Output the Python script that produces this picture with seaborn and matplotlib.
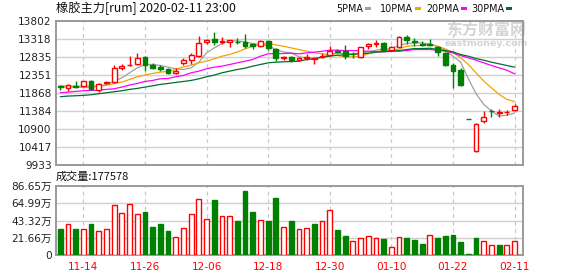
import numpy as np
import pandas as pd
import matplotlib
matplotlib.use("Agg")
import matplotlib.pyplot as plt
from matplotlib.patches import Rectangle
import seaborn as sns

# ---------------- data ----------------
dates = ["11-11", "11-12", "11-13", "11-14", "11-15", "11-18", "11-19", "11-20", "11-21", "11-22",
         "11-25", "11-26", "11-27", "11-28", "11-29", "12-02", "12-03", "12-04", "12-05", "12-06",
         "12-09", "12-10", "12-11", "12-12", "12-13", "12-16", "12-17", "12-18", "12-19", "12-20",
         "12-23", "12-24", "12-25", "12-26", "12-27", "12-30", "12-31", "01-02", "01-03", "01-06",
         "01-07", "01-08", "01-09", "01-10", "01-13", "01-14", "01-15", "01-16", "01-17", "01-20",
         "01-21", "01-22", "01-23", "02-03", "02-04", "02-05", "02-06", "02-07", "02-10", "02-11"]

opens = [12050, 11990, 12053, 12053, 12196, 11955, 12134, 12160, 12535, 12607,
         12651, 12838, 12607, 12562, 12499, 12400, 12669, 12758, 12874, 13231,
         13329, 13231, 13231, 13240, 13231, 13177, 13124, 13267, 13052, 12820,
         12829, 12749, 12820, 12790, 12838, 12892, 13000, 13000, 12918, 12838,
         13142, 13195, 13222, 13026, 13115, 13374, 13267, 13177, 13185, 13106,
         12936, 12633, 12481, 11165, 10304, 11116, 11390, 11340, 11345, 11410]
closes = [12030, 12080, 12027, 12196, 11964, 12107, 12160, 12535, 12598, 12625,
          12811, 12615, 12526, 12499, 12410, 12455, 12767, 12883, 13222, 13293,
          13231, 13258, 13302, 13230, 13142, 13135, 13267, 13070, 12811, 12838,
          12749, 12820, 12838, 12805, 12874, 13008, 12972, 12856, 12905, 13106,
          13195, 13205, 13017, 13097, 13383, 13285, 13231, 13168, 13170, 12963,
          12633, 12446, 12080, 11160, 11045, 11232, 11380, 11360, 11370, 11518]
highs = [12080, 12098, 12178, 12200, 12214, 12134, 12187, 12615, 12660, 12874,
         12945, 12856, 12678, 12607, 12535, 12544, 12811, 12945, 13410, 13329,
         13499, 13374, 13302, 13345, 13463, 13213, 13302, 13302, 13079, 12874,
         12874, 12838, 12910, 12838, 12945, 13142, 13061, 13160, 12963, 13106,
         13222, 13284, 13240, 13124, 13410, 13436, 13338, 13257, 13320, 13124,
         12963, 12678, 12544, 11165, 11050, 11384, 11428, 11428, 11420, 11562]
lows = [11955, 11920, 12000, 12040, 11937, 11893, 12098, 12142, 12480, 12605,
        12633, 12472, 12499, 12463, 12365, 12374, 12615, 12651, 12829, 13177,
        13151, 13177, 13106, 13195, 13080, 13052, 13106, 13035, 12722, 12749,
        12713, 12731, 12767, 12642, 12820, 12874, 12945, 12794, 12802, 12820,
        13044, 13106, 12999, 12990, 13097, 13195, 13124, 13124, 13124, 12874,
        12589, 11991, 12053, 11160, 10285, 11054, 11232, 11223, 11268, 11375]

# volume in 万 (10k lots)
volume = [32.8, 39.1, 32.8, 32.4, 39.1, 29.9, 32.4, 63.1, 52.6, 63.9,
          51.3, 54.3, 35.3, 39.1, 30.3, 22.3, 33.6, 51.3, 70.2, 45.0,
          69.4, 48.8, 48.8, 42.9, 80.8, 54.3, 43.7, 42.9, 71.9, 34.9,
          42.9, 32.4, 33.6, 39.1, 42.5, 56.4, 31.5, 24.0, 17.7, 21.0,
          23.6, 21.0, 20.2, 9.7, 22.3, 21.4, 18.9, 13.9, 25.2, 21.4,
          24.0, 25.2, 16.4, 1.3, 21.4, 17.2, 12.2, 12.6, 12.2, 17.76]

ma5 = [12053, 12053, 12053, 12053, 12053, 12053, 12098, 12187, 12276, 12410,
       12544, 12633, 12633, 12607, 12562, 12517, 12499, 12544, 12695, 12945,
       13079, 13196, 13267, 13267, 13240, 13196, 13168, 13142, 13035, 12972,
       12945, 12838, 12812, 12803, 12838, 12901, 12945, 12919, 12910, 12945,
       12972, 13017, 13052, 13052, 13151, 13195, 13213, 13213, 13186, 13124,
       13017, 12856, 12700, 12250, 11850, 11560, 11384, 11250, 11268, 11330]
ma10 = [12026, 12026, 12026, 12017, 12008, 12053, 12071, 12124, 12160, 12231,
        12303, 12348, 12392, 12428, 12446, 12499, 12571, 12615, 12678, 12722,
        12785, 12856, 12901, 12972, 13052, 13124, 13168, 13195, 13160, 13124,
        13079, 13035, 12990, 12954, 12919, 12901, 12874, 12838, 12838, 12856,
        12919, 12972, 13008, 13008, 13052, 13124, 13142, 13142, 13160, 13124,
        13052, 12963, 12812, 12633, 12410, 12187, 12008, 11830, 11696, 11640]
ma20 = [11875, 11892, 11910, 11928, 11937, 11946, 11964, 11982, 12026, 12080,
        12124, 12178, 12205, 12249, 12258, 12303, 12339, 12410, 12455, 12517,
        12562, 12589, 12633, 12678, 12722, 12767, 12856, 12919, 12928, 12928,
        12937, 12919, 12945, 12963, 12990, 13017, 13017, 13008, 13008, 12999,
        12990, 12981, 12972, 12990, 12990, 13008, 13035, 13035, 13035, 13017,
        12990, 12945, 12874, 12812, 12749, 12678, 12606, 12544, 12481, 12383]
ma30 = [11767, 11785, 11794, 11803, 11821, 11848, 11875, 11901, 11928, 11964,
        11991, 12026, 12062, 12098, 12124, 12151, 12178, 12205, 12249, 12303,
        12348, 12410, 12455, 12499, 12535, 12589, 12633, 12678, 12696, 12705,
        12713, 12722, 12767, 12785, 12829, 12856, 12883, 12892, 12910, 12919,
        12937, 12963, 12981, 12990, 13008, 13035, 13061, 13061, 13070, 13035,
        13008, 12972, 12901, 12856, 12794, 12749, 12696, 12651, 12606, 12562]

price_ticks = [9933, 10417, 10900, 11384, 11868, 12351, 12835, 13318, 13802]
vol_ticks = [0, 21.66, 43.32, 64.99, 86.65]
vol_tick_labels = ["0", "21.66万", "43.32万", "64.99万", "86.65万"]
xtick_idx = [3, 11, 19, 27, 35, 43, 51, 59]

title_text = "橡胶主力[rum] 2020-02-11 23:00"
vol_title = "成交量:177578"
ma_names = ["5PMA", "10PMA", "20PMA", "30PMA"]

# ---------------- styling ----------------
sns.set_theme(style="white")
plt.rcParams["font.family"] = ["DejaVu Sans", "Noto Sans CJK SC"]
plt.rcParams["axes.unicode_minus"] = False

RED = "#ff0000"
GREEN = "#008000"
ma_colors = ["#a0a0a0", "#f5a300", "#ff00ff", "#006e32"]
GRID = "#d0d0d0"
SPINE = "#9a9a9a"

W, H = 578, 276
fig = plt.figure(figsize=(W / 100, H / 100), dpi=100)
fig.patch.set_facecolor("white")


def fx(px):
    return px / W


def fy(py):
    return 1 - py / H


ax = fig.add_axes([fx(56), fy(165), fx(523) - fx(56), fy(21) - fy(165)])
axv = fig.add_axes([fx(56), fy(255), fx(523) - fx(56), fy(186) - fy(255)])

n = len(dates)
x = np.arange(n)
df = pd.DataFrame({"x": x, "open": opens, "close": closes, "high": highs, "low": lows,
                   "volume": volume, "ma5": ma5, "ma10": ma10, "ma20": ma20, "ma30": ma30})

up = df["close"] >= df["open"]
cand_col = np.where(up, RED, GREEN)
prev_close = df["close"].shift(1).fillna(df["open"])
vol_up = df["close"] >= prev_close
vol_col = np.where(vol_up, RED, GREEN)

XL = (-0.55, 60.1)
for a in (ax, axv):
    a.set_xlim(*XL)
    a.set_facecolor("white")
    for s in a.spines.values():
        s.set_color(SPINE)
        s.set_linewidth(1.4)
    for xi in xtick_idx:
        a.axvline(xi, color="#c8c8c8", lw=0.9, ls=(0, (3, 3)), zorder=0)

# price grid
ax.set_ylim(price_ticks[0], price_ticks[-1])
for t in price_ticks[1:-1]:
    ax.axhline(t, color=GRID, lw=1.0, zorder=0)
ax.set_yticks(price_ticks)
ax.set_yticklabels([str(t) for t in price_ticks], fontsize=7.6, color="#222222")
ax.set_xticks([])
ax.tick_params(axis="y", length=0, pad=3)

# watermark (behind the marks)
ax.text(fx(486), fy(30), "东方财富网", fontsize=11.5, color="#d4d4d4", fontweight="bold",
        family=["Noto Sans CJK SC"], va="center", ha="center", zorder=0.5,
        transform=fig.transFigure)
ax.text(fx(486), fy(43), "eastmoney.com", fontsize=6.8, color="#d4d4d4", fontweight="bold",
        va="center", ha="center", zorder=0.5, transform=fig.transFigure)

# MA lines
for col, c in zip(["ma5", "ma10", "ma20", "ma30"], ma_colors):
    sns.lineplot(data=df, x="x", y=col, ax=ax, color=c, lw=0.9, zorder=2, legend=False)
ax.set_xlabel("")
ax.set_ylabel("")

# candles
ax.vlines(df["x"], df["low"], df["high"], colors=cand_col, lw=1.0, zorder=3)
body_bottom = np.minimum(df["open"], df["close"])
body_h = np.abs(df["close"] - df["open"])
face = np.where(up, "white", GREEN)
ax.bar(df["x"], body_h, bottom=body_bottom, width=0.62, color=face,
       edgecolor=cand_col, linewidth=1.0, zorder=4)

# volume
axv.set_ylim(0, vol_ticks[-1])
for t in vol_ticks[1:-1]:
    axv.axhline(t, color=GRID, lw=1.0, zorder=0)
vface = np.where(vol_up, "white", GREEN)
axv.bar(df["x"], df["volume"], width=0.62, color=vface, edgecolor=vol_col,
        linewidth=1.0, zorder=3)
axv.set_yticks(vol_ticks)
axv.set_yticklabels(vol_tick_labels, fontsize=7.6, color="#222222")
axv.set_xticks(xtick_idx)
axv.set_xticklabels([dates[i] for i in xtick_idx], fontsize=7.6, color=RED)
axv.tick_params(axis="both", length=0, pad=3)
axv.tick_params(axis="x", pad=5)

# texts
fig.text(fx(56), fy(8), title_text, fontsize=8.8, color="#111111",
         family=["Noto Sans CJK SC", "DejaVu Sans"], va="center", ha="left")
fig.text(fx(56), fy(177), vol_title, fontsize=8.0, color="#111111",
         family=["Noto Sans CJK SC", "DejaVu Sans"], va="center", ha="left")

# legend
mark_x = [365, 415, 461, 506]
for name, mx, c in zip(ma_names, mark_x, ma_colors):
    fig.text(fx(mx - 2), fy(8.5), name, fontsize=6.9, color="#111111", va="center", ha="right")
    fig.patches.append(Rectangle((fx(mx), fy(10)), fx(6), 3 / H, transform=fig.transFigure,
                                 facecolor=c, edgecolor="none"))

fig.savefig("out.png", dpi=100, facecolor="white")
